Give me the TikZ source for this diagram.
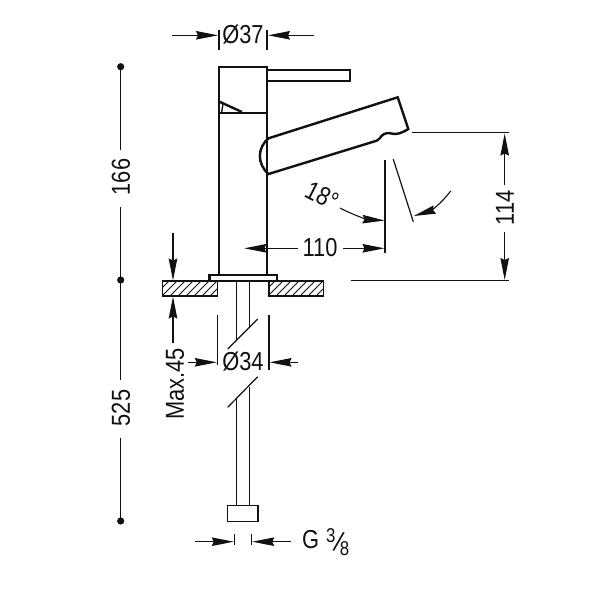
\documentclass[tikz,border=0pt]{standalone}
\usepackage{fontspec}
\usetikzlibrary{arrows.meta}
\newfontfamily\dimfont[FakeStretch=0.84]{Liberation Sans}
\definecolor{ink}{HTML}{111111}
\tikzset{
  body/.style={draw=ink,line width=2.4pt,line join=miter},
  thin line/.style={draw=ink,line width=1.2pt},
  dim/.style={draw=ink,line width=1.1pt,-{Stealth[length=22pt,width=8.5pt,inset=2pt]}},
  label/.style={text=ink,inner sep=0pt,font=\dimfont\fontsize{26}{26}\selectfont},
  hatch/.style={draw=ink,line width=1pt},
}
\begin{document}
\begin{tikzpicture}[x=1pt,y=-1pt]
\useasboundingbox[fill=white] (0,0) rectangle (600,600);
% faucet head and lever
\draw[body] (219,113) -- (219,67) -- (267,67) -- (267,275);
\draw[body] (219,275) -- (219,113) -- (267,113);
\draw[body] (219,101.5) -- (242,112);
\draw[body,line width=1.4pt] (223,103.5) -- (221.7,112);
\draw[body] (267,70) -- (350,70) -- (350,80.7) -- (267,80.7);
% spout
\draw[body] (268.5,174) .. controls (257,164) and (257,148) .. (268.5,138.3)
  -- (397.7,97.3) -- (408.3,129)
  .. controls (402,133) and (397,134.5) .. (393,133.8)
  .. controls (388,132.5) and (385,133) .. (382,135.5)
  .. controls (380,138) and (379,139.5) .. (376.7,140.7) -- cycle;
% base flange
\draw[body] (209.3,275) rectangle (276.7,280.7);
% counter top
\begin{scope}
  \clip (162.7,281) rectangle (217.7,296);
  \foreach \i in {0,...,10} \draw[hatch] (152+8*\i,298) -- (172+8*\i,278);
\end{scope}
\begin{scope}
  \clip (269,281) rectangle (323.3,296);
  \foreach \i in {0,...,10} \draw[hatch] (258+8*\i,298) -- (278+8*\i,278);
\end{scope}
\draw[thin line] (217.7,281) -- (162.7,281) -- (162.7,296) -- (217.7,296) -- cycle;
\draw[thin line] (269,281) -- (323.3,281) -- (323.3,296) -- (269,296) -- cycle;
% supply pipe
\draw[thin line] (236.7,281) -- (236.7,340);
\draw[thin line] (249.3,281) -- (249.3,327);
\draw[thin line] (227.7,349) -- (257.7,319);
\draw[thin line] (227.7,407.3) -- (257.7,376.7);
\draw[thin line] (236.7,399) -- (236.7,505.7);
\draw[thin line] (249.3,386.7) -- (249.3,505.7);
\draw[thin line] (227.7,505.7) rectangle (258,521.7);
% O37
\node[label] (d37) at (243,35) {Ø37};
\draw[thin line] (219,30) -- (219,50);
\draw[thin line] (267,30) -- (267,50);
\draw[dim] (172,35.3) -- (218,35.3);
\draw[dim] (314,35.3) -- (268,35.3);
% height dots
\node[label,rotate=90] (h166) at (121,177) {166};
\node[label,rotate=90] (h525) at (121,408) {525};
\fill[ink] (120.7,66.7) circle (3.6);
\fill[ink] (120.7,280) circle (3.6);
\fill[ink] (120.7,521) circle (3.6);
\draw[thin line] (120.7,66.7) -- (120.7,150);
\draw[thin line] (120.7,207) -- (120.7,380);
\draw[thin line] (120.7,438) -- (120.7,521);
% 114
\draw[thin line] (412.3,132.7) -- (509.3,132.7);
\draw[thin line] (350.7,280.7) -- (509.3,280.7);
\node[label,rotate=90] (h114) at (505,208) {114};
\draw[dim] (504.7,185) -- (504.7,133.5);
\draw[dim] (504.7,232) -- (504.7,280);
% 110
\draw[thin line] (385,160) -- (385,253.3);
\node[label] (w110) at (320,248) {110};
\draw[dim] (298,248.3) -- (244.3,248.3);
\draw[dim] (343,248.3) -- (384.5,248.3);
% 18 deg
\draw[thin line] (393.3,159.3) -- (413.3,221.7);
\node[label,rotate=-27] (ang) at (322,196) {18°};
\draw[dim] (340,208) .. controls (353,215) and (368,219.5) .. (384.5,220.5);
\draw[dim] (450.7,191) .. controls (440,205) and (430,211) .. (413.8,216);
% Max.45
\draw[dim] (173,233.3) -- (173,280.5);
\draw[dim] (173,342.7) -- (173,296.5);
\node[label,rotate=90] (m45) at (175,384) {Max.45};
% O34
\draw[thin line] (217.3,315) -- (217.3,365);
\draw[thin line] (269,315) -- (269,370);
\node[label] (d34) at (243,362) {Ø34};
\draw[dim] (187.7,362.3) -- (216.8,362.3);
\draw[dim] (298.3,362.3) -- (269.5,362.3);
% G 3/8
\draw[thin line] (234.3,534) -- (234.3,545);
\draw[thin line] (251.7,534) -- (251.7,545);
\draw[dim] (195,541.7) -- (233.8,541.7);
\draw[dim] (290.7,541.7) -- (252.2,541.7);
\node[label,anchor=base west] (g) at (302,548)
  {G\hspace{7pt}\raisebox{6pt}{\fontsize{20}{20}\selectfont 3}\hspace{-3pt}\raisebox{-2pt}{\rotatebox{-17}{\fontsize{28}{28}\selectfont /}}\hspace{-5pt}\raisebox{-7pt}{\fontsize{20}{20}\selectfont 8}};
\end{tikzpicture}
\end{document}
